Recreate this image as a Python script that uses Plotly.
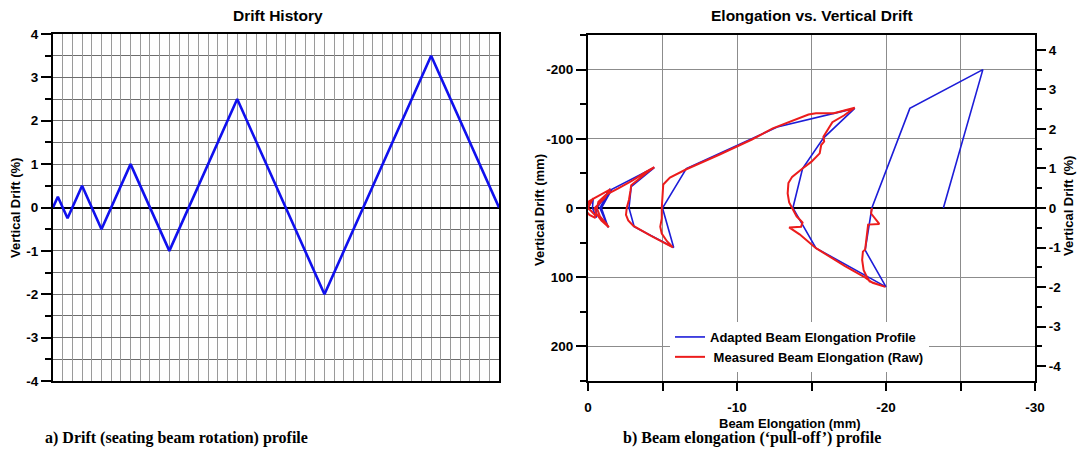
import plotly.graph_objects as go

# ---------------- data ----------------
# (a) drift history: cumulative step vs vertical drift (%)
drift_step = [0, 0.25, 0.75, 1.5, 2.5, 4, 6, 9.5, 14, 19.5, 23]
drift_pct = [0, 0.25, -0.25, 0.5, -0.5, 1, -1, 2.5, -2, 3.5, 0]

# (b) adapted beam elongation profile (mm) vs vertical drift (mm)
adapted_elong = [0, -0.35, -0.3, -0.55, -0.6, -1.5, -0.8, -1.35, -0.9, -1.6, -4.45,
                 -2.9, -2.75, -3.1, -5.75, -5.0, -6.6, -12.7, -17.9, -15.8, -14.4,
                 -13.75, -15.3, -20.0, -18.6, -18.9, -19.05, -21.6, -26.5, -23.85]
adapted_drift_mm = [0, -14, 0, 14, 0, -28, 0, 28, 0, -27, -58.5,
                    -31, 0, 27, 57, 0, -57, -117, -144, -101, -57,
                    0, 58, 114, 61, 22, 0, -144, -200, 0]

# (b) measured beam elongation (raw)
measured_elong = [0, -0.15, -0.35, -0.2, 0.1, 0.2, -0.1, -0.45, -0.5, -0.2, 0.15, 0.05,
                  -0.4, -0.9, -1.5, -1.1, -0.7, -0.45, -0.55, -0.9, -1.4, -1.2, -0.8, -0.6,
                  -0.7, -1.2, -2.0, -3.0, -3.8, -4.45, -4.0, -3.4, -2.9, -2.85, -2.75, -2.6,
                  -2.55, -2.7, -3.05, -4.2, -5.7, -5.3, -4.95, -4.85, -4.95, -4.95, -5.0, -5.05,
                  -5.5, -6.6, -8.8, -11.0, -12.4, -13.8, -14.8, -15.3, -16.5, -17.9, -17.2, -16.4,
                  -16.0, -15.8, -15.85, -15.65, -15.55, -15.0, -14.4, -14.1, -13.7, -13.45, -13.4, -13.5,
                  -13.7, -14.0, -14.4, -14.3, -13.5, -14.2, -15.3, -17.25, -18.5, -19.1, -19.95, -19.3,
                  -18.9, -18.7, -18.5, -18.4, -18.45, -18.6, -18.7, -18.8, -19.55, -19.35, -19.0, -19.05]
measured_drift_mm = [0, -6, -14, -9, -4, 3, 10, 14, 11, 4, -2, -8,
                     -14, -20, -27, -14, -6, 0, 8, 18, 28, 22, 12, 0,
                     -9, -19, -28, -40, -51, -59, -52, -42, -33, -25, -12, 0,
                     10, 18, 26, 40, 57, 48, 37, 27, 15, 0, -20, -34,
                     -44, -56, -77, -99, -115, -126, -135, -137, -137, -145, -134, -124,
                     -110, -103, -96, -91, -79, -67, -57, -52, -45, -36, -21, -8,
                     0, 12, 21, 27, 28, 38, 58, 84, 99, 108, 114, 109,
                     106, 99, 90, 75, 63, 60, 41, 24, 23, 17, 8, 0]
assert len(measured_elong) == len(measured_drift_mm)
assert len(adapted_elong) == len(adapted_drift_mm)

# tick labels
pct_ticks = [-4, -3, -2, -1, 0, 1, 2, 3, 4]
pct_labels = ["-4", "-3", "-2", "-1", "0", "1", "2", "3", "4"]
mm_ticks = [-200, -100, 0, 100, 200]
mm_labels = ["-200", "-100", "0", "100", "200"]
elong_ticks = [0, -10, -20, -30]
elong_labels = ["0", "-10", "-20", "-30"]

# ---------------- layout helpers ----------------
W, H = 1078, 464
def fx(p):
    return p / W
def fy(p):
    return 1 - p / H

SANS = "Liberation Sans, Arial, sans-serif"
tickfont = dict(family=SANS, size=13.5, color="black", weight="bold")
BLUE_L = "#1010ee"
BLUE_R = "#1c1cd8"
RED = "#ec1c1c"

fig = go.Figure()
fig.add_trace(go.Scatter(x=drift_step, y=drift_pct, mode="lines",
                         line=dict(color=BLUE_L, width=2.6),
                         xaxis="x", yaxis="y", showlegend=False, hoverinfo="skip"))
fig.add_trace(go.Scatter(x=adapted_elong, y=adapted_drift_mm, mode="lines",
                         name="Adapted Beam Elongation Profile",
                         line=dict(color=BLUE_R, width=1.6),
                         xaxis="x2", yaxis="y2", legendrank=1))
fig.add_trace(go.Scatter(x=measured_elong, y=measured_drift_mm, mode="lines",
                         name=" Measured Beam Elongation (Raw)",
                         line=dict(color=RED, width=2.0),
                         xaxis="x2", yaxis="y2", legendrank=2))
# invisible anchor trace so the secondary (%) axis is drawn
fig.add_trace(go.Scatter(x=[0], y=[0], mode="markers", marker=dict(opacity=0),
                         xaxis="x2", yaxis="y3", showlegend=False, hoverinfo="skip"))

ytop, ybot = 34, 381

fig.update_layout(
    width=W, height=H,
    margin=dict(l=0, r=0, t=0, b=0, autoexpand=False),
    paper_bgcolor="white", plot_bgcolor="white",
    font=dict(family=SANS, color="black"),
    xaxis=dict(domain=[fx(53), fx(499)], anchor="y", range=[0, 23], automargin=False,
               tick0=0, dtick=0.5, showticklabels=False, ticks="",
               showgrid=True, gridcolor="#9a9a9a", gridwidth=1,
               showline=True, linecolor="black", linewidth=2, mirror=True,
               zeroline=False),
    yaxis=dict(domain=[fy(ybot), fy(ytop)], anchor="x", range=[-4, 4], automargin=False,
               tickmode="array", tickvals=pct_ticks, ticktext=pct_labels,
               ticks="outside", ticklen=10, tickwidth=2, tickcolor="black",
               tickfont=tickfont,
               minor=dict(dtick=0.5, tick0=0, ticks="outside", ticklen=6, tickwidth=2,
                          tickcolor="black", showgrid=True, gridcolor="#6e6e6e", gridwidth=1),
               showgrid=True, gridcolor="#6e6e6e", gridwidth=1,
               showline=True, linecolor="black", linewidth=2, mirror=True,
               zeroline=True, zerolinecolor="black", zerolinewidth=1.6),
    xaxis2=dict(domain=[fx(588), fx(1035)], anchor="y2", range=[0, -30], automargin=False,
                tickmode="array", tickvals=elong_ticks, ticktext=elong_labels,
                ticks="outside", ticklen=8, tickwidth=1.5, tickcolor="black",
                tickfont=tickfont, ticklabelstandoff=5,
                minor=dict(dtick=5, tick0=0, ticks="outside", ticklen=8, tickwidth=1.5,
                           tickcolor="black", showgrid=True, gridcolor="#8c8c8c", gridwidth=1),
                showgrid=True, gridcolor="#8c8c8c", gridwidth=1,
                showline=True, linecolor="black", linewidth=2, mirror=True,
                zeroline=False),
    yaxis2=dict(domain=[fy(ybot), fy(35)], anchor="x2", range=[250, -250], automargin=False,
                tickmode="array", tickvals=mm_ticks, ticktext=mm_labels,
                ticks="outside", ticklen=10, tickwidth=1.5, tickcolor="black",
                tickfont=tickfont,
                minor=dict(dtick=50, tick0=0, ticks="outside", ticklen=6, tickwidth=1.5,
                           tickcolor="black", showgrid=False),
                showgrid=True, gridcolor="#8c8c8c", gridwidth=1,
                showline=True, linecolor="black", linewidth=2, mirror=True,
                zeroline=True, zerolinecolor="black", zerolinewidth=2),
    yaxis3=dict(overlaying="y2", side="right", anchor="x2", automargin=False,
                range=[-4.375, 4.375],
                tickmode="array", tickvals=pct_ticks, ticktext=pct_labels,
                ticks="outside", ticklen=9, tickwidth=1.5, tickcolor="black",
                tickfont=tickfont,
                minor=dict(dtick=0.5, tick0=0, ticks="outside", ticklen=5, tickwidth=1.5,
                           tickcolor="black", showgrid=False),
                showgrid=False, zeroline=False,
                showline=True, linecolor="black", linewidth=2),
    legend=dict(x=fx(670), y=fy(322), xanchor="left", yanchor="top",
                bgcolor="white", borderwidth=0, itemwidth=30,
                font=dict(family=SANS, size=13, color="black", weight="bold"),
                tracegroupgap=0),
    showlegend=True,
)

def ann(text, x, y, size=13, angle=0, family=SANS, weight="bold"):
    fig.add_annotation(text=text, x=fx(x), y=fy(y), xref="paper", yref="paper",
                       showarrow=False, textangle=angle,
                       xanchor="center", yanchor="middle",
                       font=dict(family=family, size=size, color="black", weight=weight))

ann("Drift History", 278, 15, size=15.5)
ann("Elongation vs. Vertical Drift", 812, 15, size=15.5)
ann("Vertical Drift (%)", 15, 208, size=13, angle=-90)
ann("Vertical Drift (mm)", 539, 210, size=13, angle=-90)
ann("Vertical Drift (%)", 1068, 206, size=13, angle=-90)
ann("Beam Elongation (mm)", 790, 423, size=13)
SERIF = "Liberation Serif, Times New Roman, serif"
ann("a) Drift (seating beam rotation) profile", 176, 438, size=16, family=SERIF)
ann("b) Beam elongation (\u2018pull-off\u2019) profile", 752, 438, size=16, family=SERIF)

fig.write_html("out.html",
               config={"displayModeBar": False},
               post_script="document.body.style.margin='0';document.body.style.overflow='hidden';")
